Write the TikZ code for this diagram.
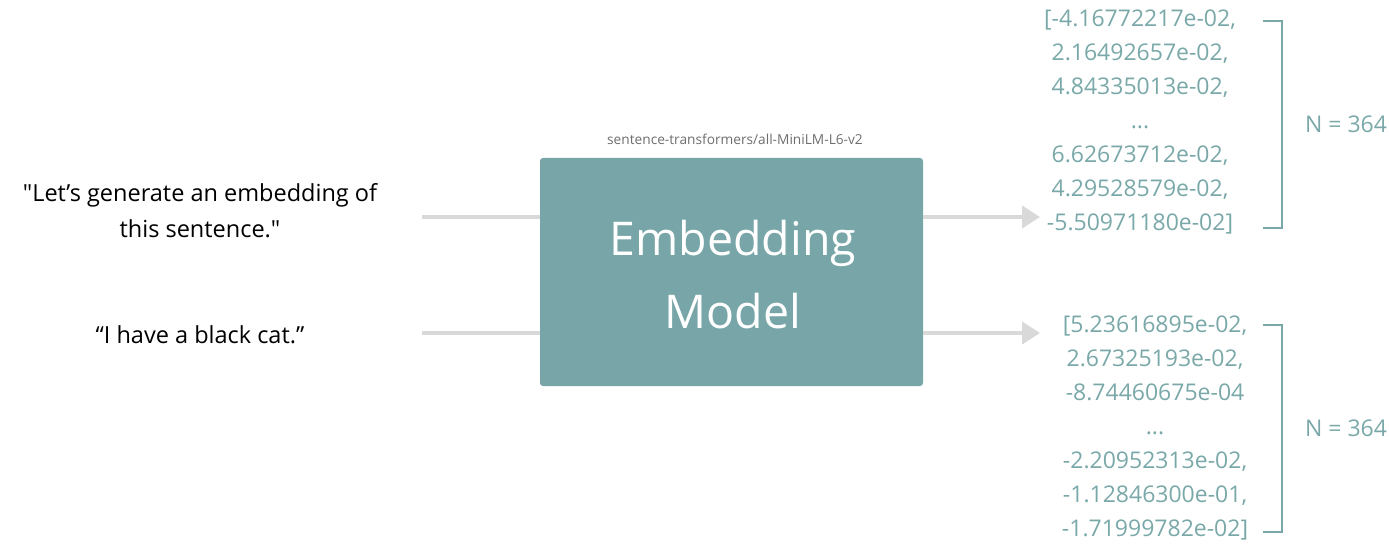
\documentclass[tikz,border=0pt]{standalone}
\usepackage{fontspec}
\setmainfont{Open Sans}[Ligatures=TeXOff]
\usetikzlibrary{arrows.meta,positioning}

\definecolor{modelfill}{HTML}{78A6A8}
\definecolor{vecink}{HTML}{7AA8A8}
\definecolor{feedgray}{HTML}{D9D9D9}
\definecolor{hubgray}{HTML}{6E6E6E}

\tikzset{
 feed/.style={feedgray,line width=4pt},
 feedout/.style={feed,-{Triangle[length=18pt,width=22pt]}},
 sentence/.style={align=center,font=\fontsize{23.5}{36}\selectfont},
 vecnums/.style={vecink,align=center,font=\fontsize{23}{34}\selectfont},
 dimlabel/.style={vecink,font=\fontsize{23}{28}\selectfont}
}

\begin{document}
\begin{tikzpicture}[x=1pt,y=-1pt]
\useasboundingbox (0,0) rectangle (1389,545);

\newcommand{\dimbracket}[3] % [name][top][bottom]
{
 \draw[vecink,line width=2pt] (1263,#2) -- (1282,#2) -- (1282,#3) -- (1263,#3);
 \node[dimlabel] (#1) at (1346,{(#2+#3)/2}) {N = 364};
}

\node[fill=modelfill,rounded corners=3pt,minimum width=383pt,minimum height=228pt] (model) at (731.5,272) {};
\node[white,align=center,font=\fontsize{46.5}{73}\selectfont] (modeltxt) at (733,275) {Embedding\\Model};
\node[hubgray,font=\fontsize{13.7}{15}\selectfont] (hub) at (735,139) {sentence-transformers/all-MiniLM-L6-v2};

\node[sentence] (sent1) at (200,211) {"Let’s generate an embedding of\\this sentence."};
\node[sentence] (sent2) at (200,335) {“I have a black cat.”};

\coordinate (in1) at (422,217);
\coordinate (in2) at (422,333);
\coordinate (out1) at (1040,217);
\coordinate (out2) at (1040,333);

\draw[feed] (in1) -- (in1 -| model.west);
\draw[feed] (in2) -- (in2 -| model.west);
\draw[feedout] (out1 -| model.east) -- (out1);
\draw[feedout] (out2 -| model.east) -- (out2);

\node[vecnums] (vec1) at (1140,122) {[-4.16772217e-02,\\2.16492657e-02,\\4.84335013e-02,\\...\\6.62673712e-02,\\4.29528579e-02,\\-5.50971180e-02]};
\node[vecnums] (vec2) at (1155,428) {[5.23616895e-02,\\2.67325193e-02,\\-8.74460675e-04\\...\\-2.20952313e-02,\\-1.12846300e-01,\\-1.71999782e-02]};

\dimbracket{dim1}{21}{228}
\dimbracket{dim2}{325}{532}

\end{tikzpicture}
\end{document}
